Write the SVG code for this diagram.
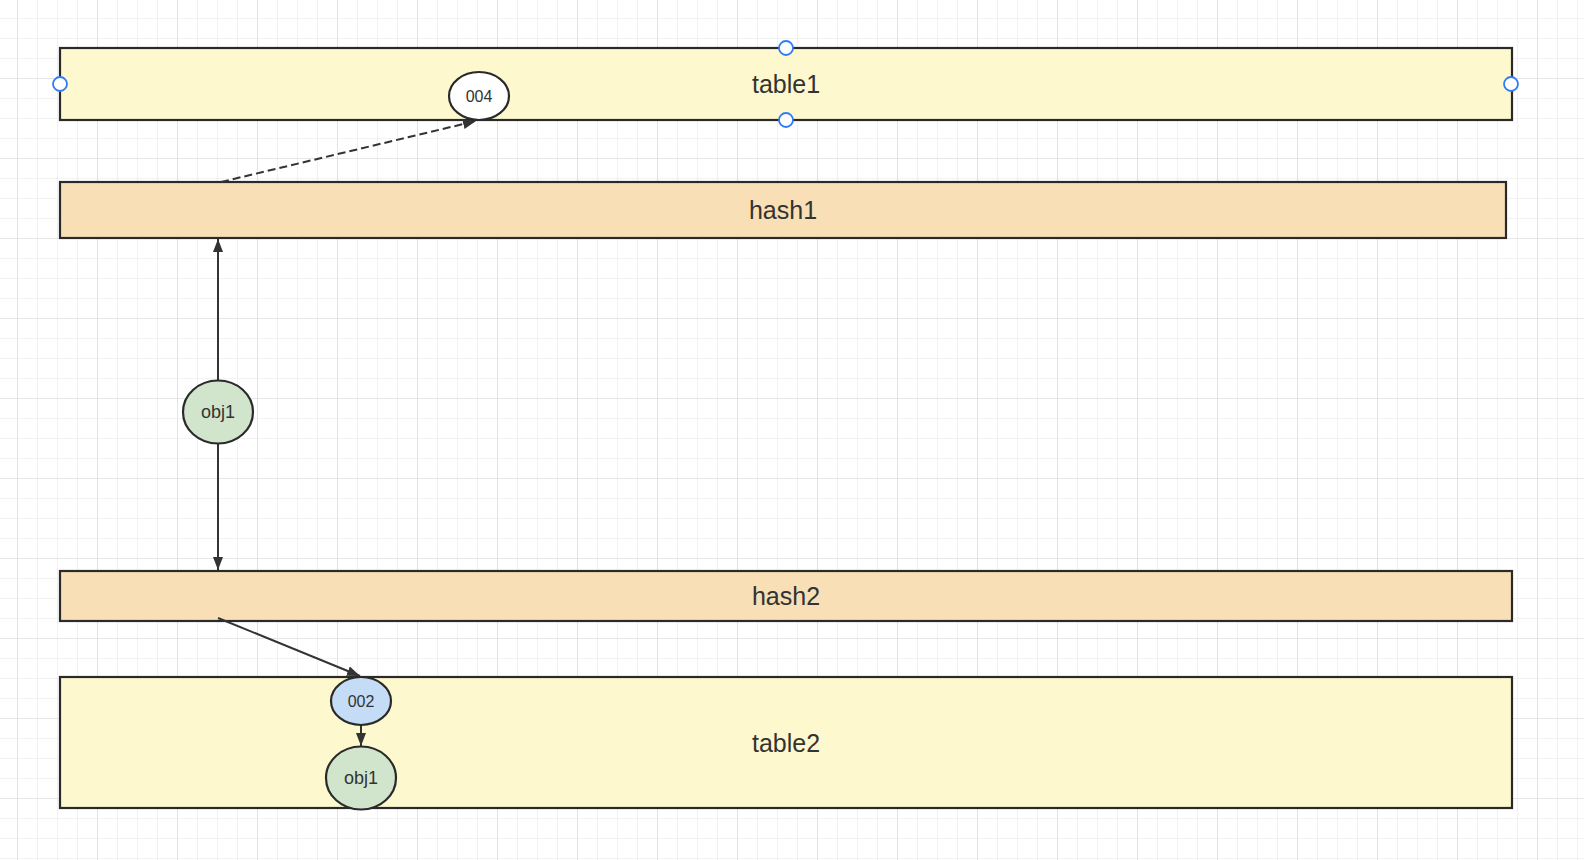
<svg xmlns="http://www.w3.org/2000/svg" width="1584" height="860" viewBox="0 0 1584 860">
  <defs>
    <pattern id="minor" x="17" y="18" width="20" height="20" patternUnits="userSpaceOnUse">
      <path d="M0 0 V20 M0 0 H20" fill="none" stroke="#e8e8e8" stroke-width="1.2"/>
    </pattern>
    <pattern id="major" x="17" y="78" width="80" height="80" patternUnits="userSpaceOnUse">
      <path d="M0 0 V80 M0 0 H80" fill="none" stroke="#dadada" stroke-width="1.2"/>
    </pattern>
    <marker id="arrow" viewBox="0 0 13 10" refX="13" refY="5" markerWidth="13" markerHeight="10" markerUnits="userSpaceOnUse" orient="auto">
      <path d="M0 0 L13 5 L0 10 Z" fill="#333333"/>
    </marker>
    <style>
      .bar { stroke: #2a2a2a; stroke-width: 2.2; }
      .table { fill: #fdf8cd; }
      .hash { fill: #f8dfb6; }
      .ell { stroke: #2a2a2a; stroke-width: 2.2; }
      .obj { fill: #d0e5cc; }
      .big { font-family: "Liberation Sans", Arial, sans-serif; font-size: 25px; fill: #333333; text-anchor: middle; dominant-baseline: central; }
      .small { font-family: "Liberation Sans", Arial, sans-serif; font-size: 16px; fill: #333333; text-anchor: middle; dominant-baseline: central; }
      .mid { font-family: "Liberation Sans", Arial, sans-serif; font-size: 18px; fill: #333333; text-anchor: middle; dominant-baseline: central; }
      .conn { stroke: #333333; stroke-width: 2; fill: none; }
      .handle { fill: #ffffff; stroke: #2f7cf6; stroke-width: 1.8; }
    </style>
  </defs>
  <rect width="1584" height="860" fill="#ffffff"/>
  <rect width="1584" height="860" fill="url(#minor)"/>
  <rect width="1584" height="860" fill="url(#major)"/>

  <g id="table1">
    <rect class="bar table" x="60" y="48" width="1452" height="72"/>
    <text class="big" x="786" y="84">table1</text>
  </g>
  <g id="hash1">
    <rect class="bar hash" x="60" y="182" width="1446" height="56"/>
    <text class="big" x="783" y="210">hash1</text>
  </g>
  <g id="hash2">
    <rect class="bar hash" x="60" y="571" width="1452" height="50"/>
    <text class="big" x="786" y="596">hash2</text>
  </g>
  <g id="table2">
    <rect class="bar table" x="60" y="677" width="1452" height="131"/>
    <text class="big" x="786" y="743">table2</text>
  </g>

  <g id="connectors">
    <line class="conn" x1="221" y1="182" x2="476" y2="121" stroke-dasharray="8 4" marker-end="url(#arrow)"/>
    <line class="conn" x1="218" y1="381" x2="218" y2="239" marker-end="url(#arrow)"/>
    <line class="conn" x1="218" y1="444" x2="218" y2="570" marker-end="url(#arrow)"/>
    <line class="conn" x1="218" y1="618" x2="360" y2="676" marker-end="url(#arrow)"/>
    <line class="conn" x1="361" y1="725" x2="361" y2="746" marker-end="url(#arrow)"/>
  </g>

  <g id="node004">
    <ellipse class="ell" cx="479" cy="96" rx="30" ry="24" fill="#ffffff"/>
    <text class="small" x="479" y="96">004</text>
  </g>
  <g id="obj1-top">
    <ellipse class="ell obj" cx="218" cy="412" rx="35" ry="31.5"/>
    <text class="mid" x="218" y="412">obj1</text>
  </g>
  <g id="node002">
    <ellipse class="ell" cx="361" cy="701" rx="30" ry="24" fill="#c4dcf5"/>
    <text class="small" x="361" y="701">002</text>
  </g>
  <g id="obj1-bottom">
    <ellipse class="ell obj" cx="361" cy="778" rx="35" ry="31.5"/>
    <text class="mid" x="361" y="778">obj1</text>
  </g>

  <g id="handles">
    <circle class="handle" cx="60" cy="84" r="7"/>
    <circle class="handle" cx="786" cy="48" r="7"/>
    <circle class="handle" cx="786" cy="120" r="7"/>
    <circle class="handle" cx="1511" cy="84" r="7"/>
  </g>
</svg>
